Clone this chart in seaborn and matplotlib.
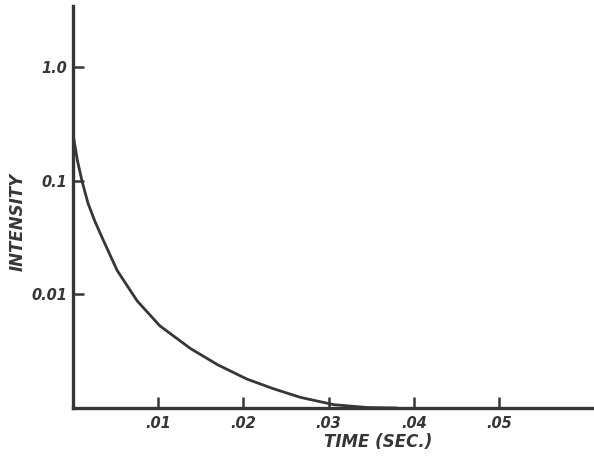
import matplotlib
matplotlib.use("Agg")
import matplotlib.pyplot as plt
import seaborn as sns
import pandas as pd

# values
time_sec = [0.0, 0.0001, 0.00054, 0.00108, 0.00179, 0.0026, 0.00343, 0.0052,
            0.00754, 0.0102, 0.0138, 0.0170, 0.0204, 0.0235, 0.0267,
            0.0306, 0.0345, 0.0380]
intensity = [0.30, 0.24, 0.152, 0.10, 0.0634, 0.044, 0.0318, 0.0163,
             0.0088, 0.0053, 0.00334, 0.0024, 0.0018, 0.00148, 0.00124,
             0.00107, 0.00101, 0.00100]

x_ticks = [0.01, 0.02, 0.03, 0.04, 0.05]
x_labels = [".01", ".02", ".03", ".04", ".05"]
y_ticks = [1.0, 0.1, 0.01]
y_labels = ["1.0", "0.1", "0.01"]

sns.set_theme(style="white")
plt.rcParams['font.family'] = ['DejaVu Sans']

ink = "#363636"
df = pd.DataFrame({"time": time_sec, "intensity": intensity})

fig = plt.figure(figsize=(5.94, 4.57), dpi=100)
ax = fig.add_axes([0.1225, 0.1072, 0.8775, 0.8796])

sns.lineplot(data=df, x="time", y="intensity", ax=ax, color=ink, linewidth=2.0)

ax.set_yscale("log")
ax.set_xlim(0, 0.0611)
ax.set_ylim(0.001, 3.47)

ax.set_xticks(x_ticks)
ax.set_xticklabels(x_labels)
ax.set_yticks(y_ticks)
ax.set_yticklabels(y_labels)
ax.minorticks_off()

for lab in ax.get_xticklabels() + ax.get_yticklabels():
    lab.set_fontstyle("italic")
    lab.set_fontweight("bold")
    lab.set_fontsize(10.5)
    lab.set_color(ink)

ax.tick_params(axis="both", which="major", direction="in", length=8, width=1.8,
               color=ink, bottom=True, left=True)
ax.tick_params(axis="x", pad=6)
ax.tick_params(axis="y", pad=4)

for side in ["top", "right"]:
    ax.spines[side].set_visible(False)
for side in ["left", "bottom"]:
    ax.spines[side].set_color(ink)
    ax.spines[side].set_linewidth(2.4)

ax.set_xlabel("")
ax.set_ylabel("")
fig.text(0.636, 0.033, "TIME (SEC.)", ha="center", va="center", fontsize=12,
         fontstyle="italic", fontweight="bold", color=ink)
fig.text(0.029, 0.514, "INTENSITY", ha="center", va="center", rotation=90,
         fontsize=12, fontstyle="italic", fontweight="bold", color=ink)

fig.savefig("out.png", dpi=100, facecolor="white")
